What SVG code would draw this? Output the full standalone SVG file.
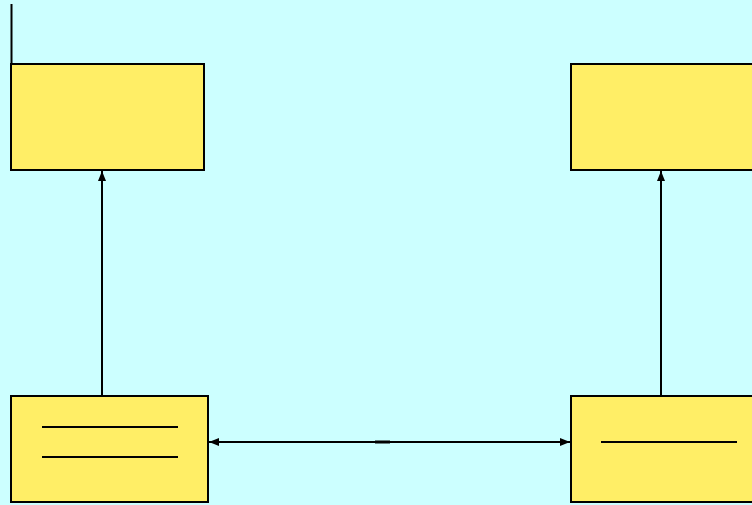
<svg xmlns="http://www.w3.org/2000/svg" width="752" height="505" viewBox="0 0 752 505">
<style>
.box{fill:#FFEE66;stroke:#000;stroke-width:2}
.ln{stroke:#000;stroke-width:2;fill:none}
.cn{stroke:#000;stroke-width:2;fill:none}
</style>
<defs>
<marker id="ah" markerWidth="10" markerHeight="10" refX="10" refY="5" orient="auto-start-reverse" markerUnits="userSpaceOnUse">
<path d="M0,1 L10,5 L0,9 Z" fill="#000"/>
</marker>
</defs>
<rect width="752" height="505" fill="#CCFFFF"/>
<line x1="11.5" y1="4" x2="11.5" y2="156" class="ln"/>
<g id="n1"><rect x="11" y="64" width="193" height="106" class="box"/></g>
<g id="n2"><rect x="571" y="64" width="190" height="106" class="box"/></g>
<g id="n3"><rect x="11" y="396" width="197" height="106" class="box"/>
<line x1="42" y1="427" x2="178" y2="427" class="ln"/>
<line x1="42" y1="457" x2="178" y2="457" class="ln"/></g>
<g id="n4"><rect x="571" y="396" width="190" height="106" class="box"/>
<line x1="601" y1="442" x2="737" y2="442" class="ln"/></g>
<g id="connectors">
<line x1="102" y1="396" x2="102" y2="171" class="cn" marker-end="url(#ah)"/>
<line x1="661" y1="396" x2="661" y2="171" class="cn" marker-end="url(#ah)"/>
<line x1="209" y1="442" x2="570" y2="442" class="cn" marker-start="url(#ah)" marker-end="url(#ah)"/>
<line x1="375" y1="442" x2="390" y2="442" stroke="#000" stroke-width="3"/>
</g>
</svg>
